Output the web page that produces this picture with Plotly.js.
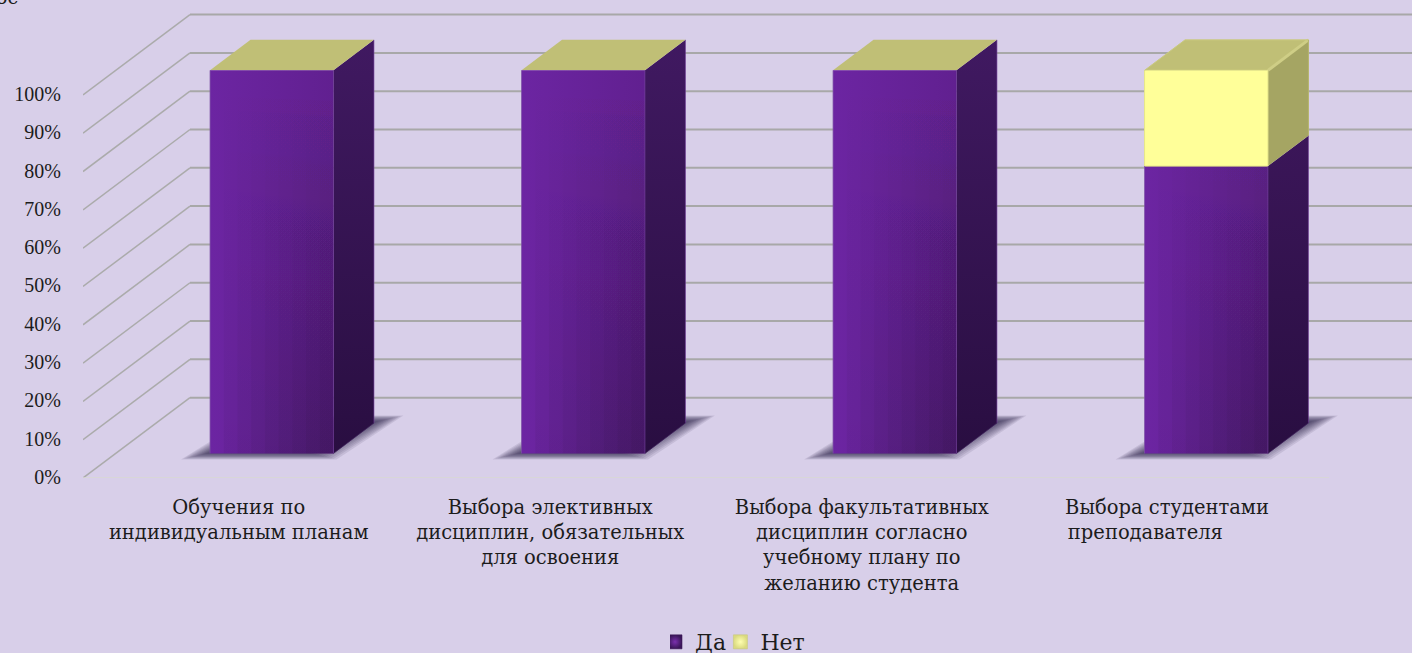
<!DOCTYPE html>
<html>
<head>
<meta charset="utf-8">
<script src="https://cdn.plot.ly/plotly-3.0.1.min.js"></script>
<style>html,body{margin:0;padding:0;background:#D8CFE9;overflow:hidden;height:653px}#chart{width:1412px;height:670px}</style>
</head>
<body>
<div id="chart"></div>
<script>
// ---- data ----
const categories = [0, 1, 2, 3];
const categoryLabels = [
  "Обучения по<br>индивидуальным планам",
  "Выбора элективных<br>дисциплин, обязательных<br>для освоения",
  "Выбора факультативных<br>дисциплин согласно<br>учебному плану по<br>желанию студента",
  "Выбора студентами\u00A0\u00A0<br>преподавателя\u00A0\u00A0\u00A0\u00A0\u00A0\u00A0\u00A0\u00A0\u00A0"
];
const seriesYes = [100, 100, 100, 75];
const seriesNo = [0, 0, 0, 25];
const percentTicks = [0, 10, 20, 30, 40, 50, 60, 70, 80, 90, 100];
const percentLabels = ["0%", "10%", "20%", "30%", "40%", "50%", "60%", "70%", "80%", "90%", "100%"];

// ---- projection of the fake-3D scene onto the axes ----
const U = 311.5, V = 3.833;            // px per category, px per percent
const xRange = [-0.5, -0.5 + 1329 / U];
const yRange = [0, 478.3 / V];
const wallDX = 107 / U, wallDY = 80.4 / V;
const barHalf = 61.7 / U, barDX = 33 / U, barDY = 24.6 / V;
const depthDX = 40.5 / U, depthDY = 30.5 / V;
const floorEnd = -0.5 + 1246 / U;

const serif = "'Liberation Serif', serif";
const wide = "'DejaVu Serif', serif";
const textColor = "#1c1c1c";
const traces = [];
const base = {type: "scatter", mode: "lines", hoverinfo: "skip", showlegend: false};

function poly(xs, ys, fill, extra) {
  const t = Object.assign({}, base, {
    x: xs.concat(xs[0]), y: ys.concat(ys[0]), fill: "toself", line: {width: 0}
  }, extra || {});
  if (typeof fill === "string") t.fillcolor = fill; else t.fillgradient = fill;
  traces.push(t);
}
function line(xs, ys, color, width, extra) {
  traces.push(Object.assign({}, base, {x: xs, y: ys, line: {color: color, width: width}}, extra || {}));
}
function hex(c) { return [1, 3, 5].map(i => parseInt(c.substr(i, 2), 16)); }
function mix(a, b, t) {
  const p = hex(a), q = hex(b);
  return "rgb(" + p.map((v, i) => Math.round(v + (q[i] - v) * t)).join(",") + ")";
}
const gradV = (bottom, top) => ({type: "vertical", colorscale: [[0, bottom], [1, top]]});
const gradH = (a, b) => ({type: "horizontal", colorscale: [[0, a], [1, b]]});

// walls and gridlines
percentTicks.forEach(t => {
  line([xRange[0], xRange[0] + wallDX], [t, t + wallDY], "#ABABAB", 1.5, {cliponaxis: false});
  line([xRange[0] + wallDX, xRange[1]], [t + wallDY, t + wallDY], "#A8A8A8", 2);
});
line([xRange[0], floorEnd], [0, 0], "#D9D8D2", 1.5, {cliponaxis: false});

// bars
categories.forEach((c, i) => {
  const x0 = c + barDX - barHalf, x1 = c + barDX + barHalf;
  const y0 = barDY, yMid = y0 + seriesYes[i], yTop = yMid + seriesNo[i];

  // soft floor shadow, layered
  for (let k = 0; k < 12; k++) {
    const ix = k * 2.6 / U, iy = k * 0.6 / V;
    poly(
      [x0 - 29 / U + ix, x1 + 3 / U - ix, x1 + 70 / U - ix, x0 + 42 / U + ix],
      [y0 - 6 / V + iy, y0 - 6 / V + iy, y0 + 38 / V - iy, y0 + 38 / V - iy],
      "rgba(50,40,70,0.11)"
    );
  }

  // side: purple
  poly([x1, x1 + depthDX, x1 + depthDX, x1],
       [y0, y0 + depthDY, yMid + depthDY, yMid],
       gradV("#290E41", mix("#290E41", "#3F185F", yMid / 100)));
  // side: yellow
  if (seriesNo[i] > 0) {
    poly([x1, x1 + depthDX, x1 + depthDX, x1],
         [yMid, yMid + depthDY, yTop + depthDY, yTop], "#A5A563");
  }
  // top
  poly([x0, x1, x1 + depthDX, x0 + depthDX],
       [yTop, yTop, yTop + depthDY, yTop + depthDY], "#C0BF76");

  // front: purple, lit from the upper left
  poly([x0, x1, x1, x0], [y0, y0, yMid, yMid], gradH("#6C25A2", "#612090"));
  const layers = 8;
  const reach = seriesYes[i] / 100;
  for (let k = 1; k <= layers; k++) {
    const xk = x0 + (x1 - x0) * k / (layers + 1);
    poly([xk, x1, x1, xk], [y0, y0, yMid, yMid], {
      type: "vertical",
      colorscale: [[0, "rgba(0,0,0,0.045)"], [1, "rgba(0,0,0," + (0.045 * (1 - reach)).toFixed(4) + ")"]]
    });
  }
  // front: yellow
  if (seriesNo[i] > 0) {
    poly([x0, x1, x1, x0], [yMid, yMid, yTop, yTop], "#FFFF99", {line: {color: "#E6E68A", width: 1}});
    line([x1, x1 + depthDX], [yTop, yTop + depthDY], "#CFCE86", 3);
    line([x0, x0 + depthDX, x1 + depthDX], [yTop, yTop + depthDY, yTop + depthDY], "#CACA80", 1);
    line([x1 + depthDX, x1 + depthDX], [yMid + depthDY, yTop + depthDY], "#B5B56E", 1);
  }
  // soft edges on purple
  line([x0, x0], [y0, yMid], "rgba(125,80,165,0.75)", 1);
  line([x1, x1], [y0, yMid], "rgba(110,60,150,0.7)", 1);
  line([x1 + depthDX, x1 + depthDX], [y0 + depthDY, yMid + depthDY], "rgba(110,60,150,0.6)", 1);
  line([x1, x1 + depthDX], [y0, y0 + depthDY], "rgba(60,30,90,0.7)", 1);
});

// legend entries
traces.push({type: "scatter", mode: "markers", x: [null], y: [null], name: "Да\u2009", hoverinfo: "skip",
  marker: {symbol: "square", size: 14, color: "#3A1658", gradient: {type: "radial", color: "#7A30AE"},
           line: {color: "#3A1658", width: 0.6}}});
traces.push({type: "scatter", mode: "markers", x: [null], y: [null], name: "Нет", hoverinfo: "skip",
  marker: {symbol: "square", size: 14, color: "#DADA80", gradient: {type: "radial", color: "#FFFFB0"},
           line: {color: "#C8C878", width: 0.6}}});

const layout = {
  width: 1412, height: 670,
  margin: {l: 83, r: 0, t: 0, b: 191.7, pad: 0},
  paper_bgcolor: "#D8CFE9", plot_bgcolor: "#D8CFE9",
  font: {family: wide, size: 19.5, color: textColor},
  hovermode: false,
  xaxis: {
    type: "linear", range: xRange, tickmode: "array", tickvals: categories, ticktext: categoryLabels,
    showgrid: false, zeroline: false, showline: false, ticks: "", ticklabelstandoff: 15, fixedrange: true,
    tickangle: 0, tickfont: {family: wide, size: 19.5, color: textColor}
  },
  yaxis: {
    range: yRange, tickmode: "array", tickvals: percentTicks, ticktext: percentLabels,
    showgrid: false, zeroline: false, showline: false, ticks: "", ticklabelstandoff: 21, ticklabelshift: -1, fixedrange: true,
    tickfont: {family: serif, size: 20, color: textColor}
  },
  showlegend: true,
  legend: {
    orientation: "h", xref: "container", yref: "container",
    x: 0.4745, xanchor: "left", y: 0.0104, yanchor: "bottom",
    font: {family: wide, size: 22, color: textColor}, itemwidth: 30, indentation: -15, bgcolor: "rgba(0,0,0,0)",
    itemclick: false, itemdoubleclick: false
  },
  annotations: [{
    xref: "paper", yref: "paper", x: 0, y: 1, xanchor: "left", yanchor: "bottom",
    xshift: -89, yshift: -10, text: "ос", showarrow: false,
    font: {family: wide, size: 19, color: textColor}
  }]
};
Plotly.newPlot("chart", traces, layout, {displayModeBar: false, staticPlot: true});
</script>
</body>
</html>
